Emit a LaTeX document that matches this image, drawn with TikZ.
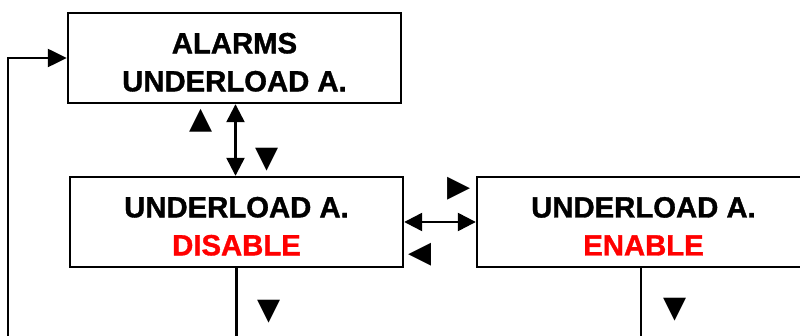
\documentclass[tikz,border=0pt]{standalone}
\usepackage{fontspec}
\setmainfont{Liberation Sans}
\newfontfamily\heavy{Liberation Sans Bold}[FakeBold=1.2]
\newfontfamily\symfont{DejaVu Sans}
\usetikzlibrary{arrows.meta}
\definecolor{redtxt}{RGB}{255,0,0}
\newcommand{\topstrut}{\rule{0pt}{29pt}}
\tikzset{
  box/.style={draw, line width=2.4pt, minimum height=90pt, minimum width=333pt, inner sep=0pt, align=center,
    font=\heavy\fontsize{29.3}{38}\selectfont},
  conn/.style={line width=2.4pt},
  onehead/.style={-{Triangle[length=19pt,width=18pt]}},
  twohead/.style={{Triangle[length=18pt,width=18pt]}-{Triangle[length=18pt,width=18pt]}},
  tri/.style={inner sep=0pt, font=\symfont\fontsize{30}{30}\selectfont}
}
\begin{document}
\begin{tikzpicture}[x=1pt,y=-1pt]
\useasboundingbox (0,0) rectangle (800,336);
\clip (0,0) rectangle (800,336);
\node[box] (b1) at (234.5,58) {\topstrut ALARMS\\UNDERLOAD A.};
\node[box] (b2) at (236.5,222) {\topstrut UNDERLOAD A.\\\textcolor{redtxt}{DISABLE}};
\node[box] (b3) at (643.5,222) {\topstrut UNDERLOAD A.\\\textcolor{redtxt}{ENABLE}};
\coordinate (vx) at (235.5,0);
\coordinate (fb) at (8,340);
\coordinate (d2) at (b2.south |- 0,340);
\coordinate (d3) at (641,340);
\draw[conn, onehead] (fb) |- (b1.west);
\draw[conn, twohead] (b1.south -| vx) -- (b2.north -| vx);
\draw[conn, twohead] (b2.east) -- (b3.west);
\draw[conn] (b2.south) -- (d2);
\draw[conn] (641,267) -- (d3);
\node[tri] (t1) at (201,121) {▲};
\node[tri] (t2) at (267,160) {▼};
\node[tri] (t3) at (459.5,188.5) {▶};
\node[tri] (t4) at (420,255) {◀};
\node[tri] (t5) at (269,312) {▼};
\node[tri] (t6) at (675,310) {▼};
\end{tikzpicture}
\end{document}
